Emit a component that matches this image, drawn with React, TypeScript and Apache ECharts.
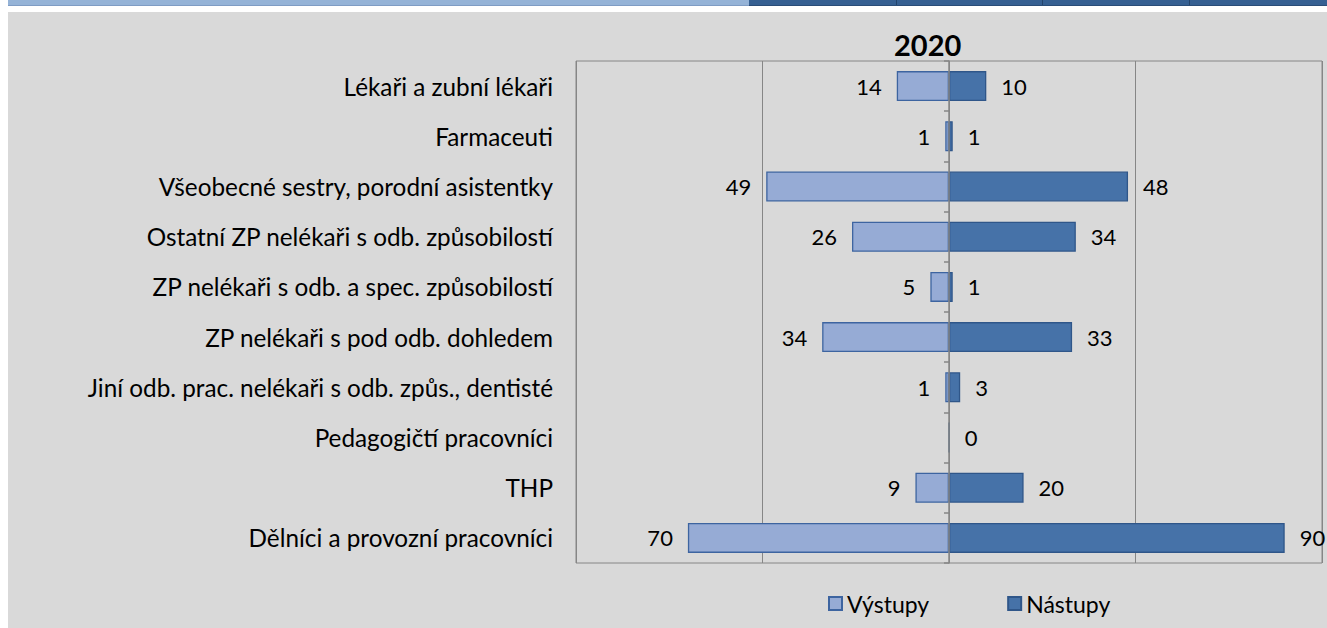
import React, { useEffect, useRef } from "react";
import * as echarts from "echarts";

const categories = [
  "Lékaři a zubní lékaři",
  "Farmaceuti",
  "Všeobecné sestry, porodní asistentky",
  "Ostatní ZP nelékaři s odb. způsobilostí",
  "ZP nelékaři s odb. a spec. způsobilostí",
  "ZP nelékaři s pod odb. dohledem",
  "Jiní odb. prac. nelékaři s odb. způs., dentisté",
  "Pedagogičtí pracovníci",
  "THP",
  "Dělníci a provozní pracovníci",
];
const vystupy: (number | null)[] = [14, 1, 49, 26, 5, 34, 1, null, 9, 70];
const nastupy: number[] = [10, 1, 48, 34, 1, 33, 3, 0, 20, 90];
const title = "2020";

const FONT = "Lato";

export default function App() {
  const ref = useRef<HTMLDivElement>(null);
  useEffect(() => {
    if (!ref.current) return;
    const chart = echarts.init(ref.current, undefined, { renderer: "svg" });
    chart.setOption({
      animation: false,
      backgroundColor: "transparent",
      textStyle: { fontFamily: FONT },
      title: {
        text: title,
        left: 889,
        top: 25,
        textStyle: { fontFamily: FONT, fontSize: 29, fontWeight: "bold", color: "#000" },
      },
      legend: {
        left: 823,
        top: 587,
        icon: "rect",
        itemWidth: 13,
        itemHeight: 13,
        itemGap: 78,
        textStyle: { fontFamily: FONT, fontSize: 23, color: "#000" },
        data: ["Výstupy", "Nástupy"],
      },
      grid: {
        left: 576,
        top: 61,
        width: 746,
        height: 502,
        show: true,
        borderColor: "#868686",
        borderWidth: 1,
        backgroundColor: "transparent",
      },
      xAxis: {
        type: "value",
        min: -100,
        max: 100,
        interval: 50,
        axisLine: { show: false },
        axisTick: { show: false },
        axisLabel: { show: false },
        splitLine: { show: true, lineStyle: { color: "#868686", width: 1 } },
      },
      yAxis: [
        {
          type: "category",
          inverse: true,
          data: categories,
          z: 10,
          axisLine: { show: true, onZero: true, lineStyle: { color: "#868686", width: 1.5 } },
          axisTick: { show: true, length: 5, lineStyle: { color: "#868686", width: 1.5 } },
          axisLabel: { show: false },
        },
        {
          type: "category",
          inverse: true,
          position: "left",
          data: categories,
          axisLine: { show: false, onZero: false },
          axisTick: { show: false },
          axisLabel: { margin: 23, fontFamily: FONT, fontSize: 24.3, color: "#000" },
        },
      ],
      series: [
        {
          name: "Výstupy",
          type: "bar",
          barWidth: 30,
          barGap: "-100%",
          data: vystupy.map((v) => (v == null ? "-" : -v)),
          itemStyle: { color: "#96abd5", borderColor: "#3d64a0", borderWidth: 1.3 },
          label: {
            show: true,
            position: "left",
            distance: 15,
            fontFamily: FONT,
            fontSize: 22,
            color: "#000",
            formatter: (p: any) => String(Math.abs(p.value)),
          },
        },
        {
          name: "Nástupy",
          type: "bar",
          barWidth: 30,
          barGap: "-100%",
          data: nastupy,
          itemStyle: { color: "#4672a8", borderColor: "#2f5689", borderWidth: 1.3 },
          label: {
            show: true,
            position: "right",
            distance: 15,
            fontFamily: FONT,
            fontSize: 22,
            color: "#000",
          },
        },
      ],
    });
    return () => chart.dispose();
  }, []);

  return (
    <div style={{ position: "fixed", left: 0, top: 0, width: 1327, height: 628, background: "#fff" }}>
      <div style={{ position: "absolute", left: 8, top: 0, width: 741, height: 5, background: "#95b3d7", borderBottom: "1px solid #7f9cc4" }} />
      <div style={{ position: "absolute", left: 749, top: 0, width: 578, height: 5, background: "#366092", borderBottom: "1px solid #2a4d78" }} />
      {[896, 1042, 1189].map((x) => (
        <div key={x} style={{ position: "absolute", left: x, top: 0, width: 1, height: 5, background: "#24446b" }} />
      ))}
      <div style={{ position: "absolute", left: 8, top: 12, right: 0, bottom: 0, background: "#d9d9d9" }} />
      <div ref={ref} style={{ position: "absolute", left: 0, top: 0, width: 1327, height: 628 }} />
    </div>
  );
}
